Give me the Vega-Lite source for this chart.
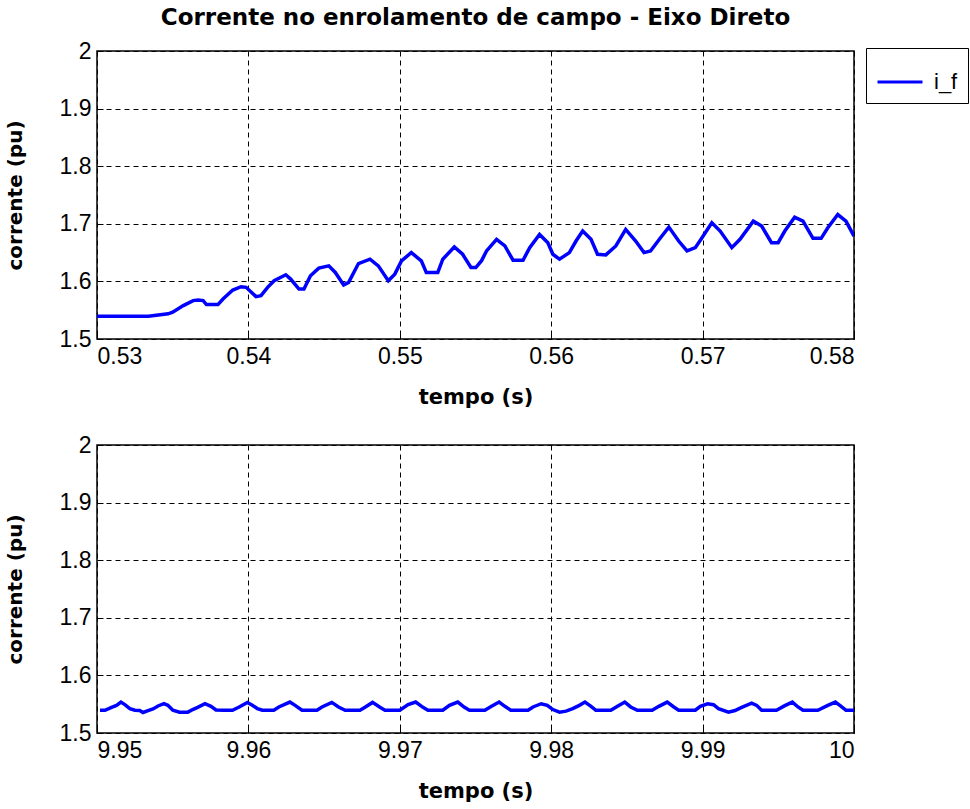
{
  "$schema": "https://vega.github.io/schema/vega-lite/v6.json",
  "background": "white",
  "padding": {"left": 4, "top": 6, "right": 0, "bottom": 0},
  "spacing": 25,
  "config": {
    "view": {"stroke": "#000", "strokeWidth": 1.5},
    "axis": {
      "labelFont": "Liberation Sans",
      "labelFontSize": 23,
      "labelColor": "#000",
      "titleFont": "DejaVu Sans",
      "titleFontSize": 20,
      "titleFontWeight": "bold",
      "titleColor": "#000",
      "grid": true,
      "gridColor": "#000",
      "gridOpacity": 1,
      "gridDash": [5, 4],
      "gridWidth": 1,
      "domain": false,
      "tickColor": "#000",
      "tickSize": -6,
      "labelPadding": 12
    },
    "axisY": {"titlePadding": 34},
    "axisX": {"titlePadding": 18, "titleFontSize": 21},
    "title": {
      "font": "DejaVu Sans",
      "fontSize": 23,
      "fontWeight": "bold",
      "color": "#000",
      "offset": 10
    },
    "legend": {
      "orient": "none",
      "legendX": 769,
      "legendY": -3,
      "strokeColor": "#000",
      "fillColor": "#fff",
      "padding": 10,
      "symbolType": "stroke",
      "symbolSize": 2025,
      "symbolStrokeWidth": 3,
      "labelFont": "Liberation Sans",
      "labelFontSize": 22,
      "labelColor": "#000",
      "labelOffset": 10
    }
  },
  "datasets": {
    "top": [
      {"t": 0.53, "v": 1.5397}, {"t": 0.5334, "v": 1.5397}, {"t": 0.5347, "v": 1.5437}, {"t": 0.535, "v": 1.5466},
      {"t": 0.5357, "v": 1.558}, {"t": 0.53635, "v": 1.5667}, {"t": 0.53668, "v": 1.5678}, {"t": 0.53701, "v": 1.5667},
      {"t": 0.53723, "v": 1.5598}, {"t": 0.53799, "v": 1.5598}, {"t": 0.53832, "v": 1.5695}, {"t": 0.53897, "v": 1.585},
      {"t": 0.53952, "v": 1.5908}, {"t": 0.53985, "v": 1.5897}, {"t": 0.5405, "v": 1.5736}, {"t": 0.54083, "v": 1.5753},
      {"t": 0.54127, "v": 1.5897}, {"t": 0.5417, "v": 1.6011}, {"t": 0.54247, "v": 1.6115}, {"t": 0.54279, "v": 1.604},
      {"t": 0.54334, "v": 1.5868}, {"t": 0.54367, "v": 1.5868}, {"t": 0.5441, "v": 1.6098}, {"t": 0.54465, "v": 1.623},
      {"t": 0.54531, "v": 1.627}, {"t": 0.54574, "v": 1.6155}, {"t": 0.54629, "v": 1.5937}, {"t": 0.54662, "v": 1.5983},
      {"t": 0.54727, "v": 1.631}, {"t": 0.54803, "v": 1.6385}, {"t": 0.54858, "v": 1.627}, {"t": 0.54924, "v": 1.6011},
      {"t": 0.54967, "v": 1.6126}, {"t": 0.55011, "v": 1.6356}, {"t": 0.55076, "v": 1.65}, {"t": 0.55142, "v": 1.6356},
      {"t": 0.55175, "v": 1.6155}, {"t": 0.55251, "v": 1.6155}, {"t": 0.55284, "v": 1.6385}, {"t": 0.5536, "v": 1.6598},
      {"t": 0.55415, "v": 1.6471}, {"t": 0.5547, "v": 1.6241}, {"t": 0.55502, "v": 1.6241}, {"t": 0.5554, "v": 1.636},
      {"t": 0.55573, "v": 1.6529}, {"t": 0.55639, "v": 1.673}, {"t": 0.55694, "v": 1.6615}, {"t": 0.55748, "v": 1.6368},
      {"t": 0.55814, "v": 1.6368}, {"t": 0.55858, "v": 1.6586}, {"t": 0.55923, "v": 1.6816}, {"t": 0.55978, "v": 1.6672},
      {"t": 0.56011, "v": 1.6471}, {"t": 0.56055, "v": 1.6385}, {"t": 0.5612, "v": 1.65}, {"t": 0.56164, "v": 1.6701},
      {"t": 0.56208, "v": 1.6874}, {"t": 0.56263, "v": 1.673}, {"t": 0.56306, "v": 1.6471}, {"t": 0.56361, "v": 1.646},
      {"t": 0.56427, "v": 1.6615}, {"t": 0.56492, "v": 1.6902}, {"t": 0.56558, "v": 1.6701}, {"t": 0.56613, "v": 1.65},
      {"t": 0.56656, "v": 1.6529}, {"t": 0.56722, "v": 1.6759}, {"t": 0.56777, "v": 1.6943}, {"t": 0.56842, "v": 1.6701},
      {"t": 0.56897, "v": 1.6529}, {"t": 0.56952, "v": 1.6586}, {"t": 0.56996, "v": 1.6759}, {"t": 0.57061, "v": 1.7017},
      {"t": 0.57116, "v": 1.6874}, {"t": 0.57193, "v": 1.6586}, {"t": 0.57247, "v": 1.673}, {"t": 0.57335, "v": 1.7046},
      {"t": 0.5739, "v": 1.696}, {"t": 0.57455, "v": 1.6672}, {"t": 0.57499, "v": 1.6672}, {"t": 0.57543, "v": 1.6874},
      {"t": 0.57608, "v": 1.7115}, {"t": 0.57663, "v": 1.7046}, {"t": 0.57729, "v": 1.6747}, {"t": 0.57783, "v": 1.6747},
      {"t": 0.57827, "v": 1.6931}, {"t": 0.57893, "v": 1.7161}, {"t": 0.57947, "v": 1.7046}, {"t": 0.58, "v": 1.6787}
    ],
    "bottom": [
      {"t": 9.9502, "v": 1.5395}, {"t": 9.95053, "v": 1.5395}, {"t": 9.95096, "v": 1.5446}, {"t": 9.95129, "v": 1.548},
      {"t": 9.95158, "v": 1.5537}, {"t": 9.95184, "v": 1.5492}, {"t": 9.95217, "v": 1.5424}, {"t": 9.9525, "v": 1.5395},
      {"t": 9.95282, "v": 1.539}, {"t": 9.95304, "v": 1.5356}, {"t": 9.95337, "v": 1.539}, {"t": 9.9537, "v": 1.5418},
      {"t": 9.95403, "v": 1.5469}, {"t": 9.95442, "v": 1.5508}, {"t": 9.95468, "v": 1.548}, {"t": 9.95501, "v": 1.5395},
      {"t": 9.95545, "v": 1.5362}, {"t": 9.956, "v": 1.5362}, {"t": 9.95632, "v": 1.5407}, {"t": 9.95665, "v": 1.5446},
      {"t": 9.95713, "v": 1.5508}, {"t": 9.95753, "v": 1.5463}, {"t": 9.95786, "v": 1.5401}, {"t": 9.9584, "v": 1.5395},
      {"t": 9.95895, "v": 1.5395}, {"t": 9.95939, "v": 1.5452}, {"t": 9.95993, "v": 1.5531}, {"t": 9.96026, "v": 1.548},
      {"t": 9.96059, "v": 1.5424}, {"t": 9.96092, "v": 1.5395}, {"t": 9.96168, "v": 1.5395}, {"t": 9.96201, "v": 1.5452},
      {"t": 9.96274, "v": 1.5537}, {"t": 9.96311, "v": 1.5475}, {"t": 9.96354, "v": 1.5395}, {"t": 9.96453, "v": 1.5395},
      {"t": 9.96486, "v": 1.5452}, {"t": 9.96551, "v": 1.5531}, {"t": 9.96595, "v": 1.5452}, {"t": 9.96639, "v": 1.5395},
      {"t": 9.96737, "v": 1.5395}, {"t": 9.9677, "v": 1.5446}, {"t": 9.9682, "v": 1.5531}, {"t": 9.96869, "v": 1.5446},
      {"t": 9.96902, "v": 1.5395}, {"t": 9.97, "v": 1.5395}, {"t": 9.97055, "v": 1.5492}, {"t": 9.97105, "v": 1.5537},
      {"t": 9.97153, "v": 1.5446}, {"t": 9.97186, "v": 1.5395}, {"t": 9.97284, "v": 1.5395}, {"t": 9.97328, "v": 1.548},
      {"t": 9.97383, "v": 1.5537}, {"t": 9.97427, "v": 1.5446}, {"t": 9.9746, "v": 1.5395}, {"t": 9.97562, "v": 1.5395},
      {"t": 9.97606, "v": 1.5463}, {"t": 9.97656, "v": 1.5537}, {"t": 9.97694, "v": 1.5463}, {"t": 9.97733, "v": 1.5395},
      {"t": 9.97847, "v": 1.5395}, {"t": 9.9788, "v": 1.5452}, {"t": 9.97934, "v": 1.5508}, {"t": 9.97974, "v": 1.548},
      {"t": 9.98011, "v": 1.5407}, {"t": 9.98055, "v": 1.5362}, {"t": 9.98098, "v": 1.5379}, {"t": 9.98142, "v": 1.5424},
      {"t": 9.98186, "v": 1.548}, {"t": 9.98223, "v": 1.5537}, {"t": 9.98263, "v": 1.5463}, {"t": 9.98295, "v": 1.5395},
      {"t": 9.98394, "v": 1.5395}, {"t": 9.98438, "v": 1.5463}, {"t": 9.98486, "v": 1.5537}, {"t": 9.98525, "v": 1.5452},
      {"t": 9.98569, "v": 1.5395}, {"t": 9.98667, "v": 1.5395}, {"t": 9.98711, "v": 1.5463}, {"t": 9.98766, "v": 1.5537},
      {"t": 9.9881, "v": 1.5452}, {"t": 9.98842, "v": 1.5395}, {"t": 9.98952, "v": 1.5395}, {"t": 9.98985, "v": 1.5463},
      {"t": 9.99033, "v": 1.5508}, {"t": 9.99072, "v": 1.5492}, {"t": 9.99105, "v": 1.5424}, {"t": 9.99171, "v": 1.5362},
      {"t": 9.99214, "v": 1.539}, {"t": 9.99258, "v": 1.5446}, {"t": 9.99324, "v": 1.552}, {"t": 9.99357, "v": 1.548},
      {"t": 9.9939, "v": 1.5395}, {"t": 9.99488, "v": 1.5395}, {"t": 9.99543, "v": 1.5475}, {"t": 9.99593, "v": 1.5537},
      {"t": 9.9963, "v": 1.5452}, {"t": 9.99663, "v": 1.5395}, {"t": 9.99761, "v": 1.5395}, {"t": 9.99827, "v": 1.548},
      {"t": 9.99877, "v": 1.5537}, {"t": 9.99915, "v": 1.5463}, {"t": 9.99947, "v": 1.5395}, {"t": 10.0, "v": 1.5395}
    ]
  },
  "vconcat": [
    {
      "width": 757,
      "height": 288,
      "title": {"text": "Corrente no enrolamento de campo - Eixo Direto", "anchor": "middle"},
      "data": {"name": "top"},
      "mark": {"type": "line", "strokeWidth": 3.5, "clip": true},
      "encoding": {
        "x": {
          "field": "t", "type": "quantitative",
          "scale": {"domain": [0.53, 0.58], "nice": false, "zero": false},
          "axis": {"values": [0.53, 0.54, 0.55, 0.56, 0.57, 0.58], "format": "~g", "title": "tempo (s)"}
        },
        "y": {
          "field": "v", "type": "quantitative",
          "scale": {"domain": [1.5, 2], "nice": false, "zero": false},
          "axis": {"values": [1.5, 1.6, 1.7, 1.8, 1.9, 2], "format": "~g", "title": "corrente (pu)"}
        },
        "color": {"datum": "i_f", "scale": {"range": ["#0000ff"]}, "legend": {"title": null}}
      }
    },
    {
      "width": 757,
      "height": 288,
      "data": {"name": "bottom"},
      "mark": {"type": "line", "strokeWidth": 3.5, "clip": true},
      "encoding": {
        "x": {
          "field": "t", "type": "quantitative",
          "scale": {"domain": [9.95, 10], "nice": false, "zero": false},
          "axis": {"values": [9.95, 9.96, 9.97, 9.98, 9.99, 10], "format": "~g", "title": "tempo (s)"}
        },
        "y": {
          "field": "v", "type": "quantitative",
          "scale": {"domain": [1.5, 2], "nice": false, "zero": false},
          "axis": {"values": [1.5, 1.6, 1.7, 1.8, 1.9, 2], "format": "~g", "title": "corrente (pu)"}
        },
        "color": {"datum": "i_f", "scale": {"range": ["#0000ff"]}, "legend": {"title": null}}
      }
    }
  ]
}
